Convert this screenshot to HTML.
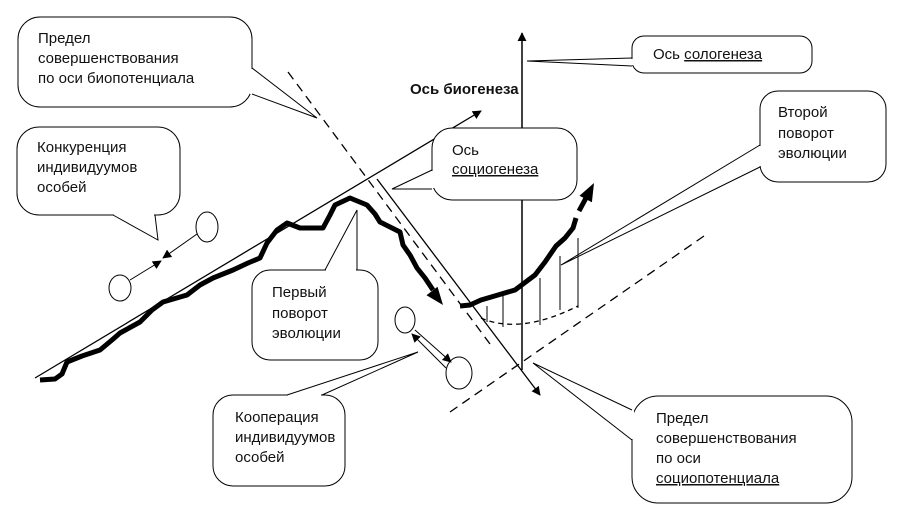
<!DOCTYPE html>
<html><head><meta charset="utf-8"><style>
html,body{margin:0;padding:0;background:#fff;width:904px;height:525px;overflow:hidden}
svg{display:block}
text{font-family:"Liberation Sans","DejaVu Sans",sans-serif;font-size:15px;fill:#111}
.u{text-decoration:underline wavy #c00}
</style></head><body>
<svg width="904" height="525" viewBox="0 0 904 525" xmlns="http://www.w3.org/2000/svg">
<defs>
<marker id="ah" viewBox="0 0 10 10" refX="9" refY="5" markerWidth="9" markerHeight="9" orient="auto" markerUnits="userSpaceOnUse"><path d="M0,0 L10,5 L0,10 z" fill="#000"/></marker>
</defs>
<g stroke="#000" fill="none">
<line x1="35" y1="378" x2="481" y2="111" stroke-width="1.3" marker-end="url(#ah)"/>
<line x1="522" y1="370" x2="522" y2="33" stroke-width="1.5" marker-end="url(#ah)"/>
<line x1="377" y1="179" x2="540" y2="395" stroke-width="1.3" marker-end="url(#ah)"/>
<line x1="288" y1="72" x2="490" y2="344" stroke-width="1.3" stroke-dasharray="9,6"/>
<line x1="450" y1="412" x2="704" y2="236" stroke-width="1.3" stroke-dasharray="9,6"/>
<path d="M481,318 Q520,335 578,306" stroke-width="1.3" stroke-dasharray="5,4"/>
<line x1="487" y1="306" x2="487" y2="322"/>
<line x1="503" y1="293" x2="503" y2="327"/>
<line x1="540" y1="278" x2="540" y2="325"/>
<line x1="560" y1="256" x2="560" y2="310"/>
<line x1="578" y1="238" x2="578" y2="308"/>
<path d="M40,380 L55,379 L62,374 L67,362 L82,356 L100,350 L112,340 L120,333 L140,322 L152,310 L163,302 L187,295 L200,285 L213,278 L233,270 L248,263 L260,258 L267,243 L277,230 L287,223 L300,228 L323,228 L330,215 L335,205 L350,198 L367,205 L375,214 L380,222 L400,232 L403,245 L410,255 L417,268 L425,278 L433,290" stroke-width="5" stroke-linejoin="round"/>
<path d="M460,306 L470,305 L481,300 L498,295 L515,290 L535,275 L545,262 L556,246 L565,238 L573,228 L576,218" stroke-width="5" stroke-linejoin="round"/>
<path d="M579,211 L586,198" stroke-width="5"/>
<ellipse cx="120" cy="288" rx="11" ry="13"/>
<ellipse cx="207" cy="227" rx="11" ry="15"/>
<line x1="130" y1="280" x2="161" y2="261" marker-end="url(#ah)"/>
<line x1="197" y1="234" x2="163" y2="258" marker-end="url(#ah)"/>
<ellipse cx="405" cy="320" rx="10" ry="13"/>
<ellipse cx="459" cy="373" rx="13" ry="16"/>
<line x1="415" y1="330" x2="451" y2="362" marker-end="url(#ah)"/>
<line x1="446" y1="368" x2="412" y2="334" marker-end="url(#ah)"/>
</g>
<polygon points="443,305 426.5,295.3 437.5,286.7" fill="#000"/>
<polygon points="594,183 591.9,202.2 579.5,195.8" fill="#000"/>

<g stroke="#000" stroke-width="1" fill="#fff">
<rect x="18" y="17" width="234" height="90" rx="22"/>
<rect x="17" y="127" width="163" height="88" rx="22"/>
<rect x="432" y="128" width="145" height="72" rx="20"/>
<rect x="632" y="36" width="180" height="37" rx="12"/>
<rect x="760" y="91" width="126" height="91" rx="18"/>
<rect x="252" y="270" width="126" height="90" rx="18"/>
<rect x="213" y="395" width="132" height="91" rx="20"/>
<rect x="632" y="396" width="220" height="107" rx="26"/>
</g>
<g fill="#fff" stroke="none">
<rect x="250" y="69" width="4" height="25"/>
<rect x="114" y="213" width="40" height="4"/>
<rect x="430" y="171" width="4" height="17"/>
<rect x="630" y="59" width="4" height="6"/>
<rect x="758" y="146" width="4" height="20"/>
<rect x="326" y="268" width="30" height="4"/>
<rect x="288" y="393" width="33" height="4"/>
<rect x="630" y="411" width="4" height="28"/>
</g>
<g stroke="#000" stroke-width="1" fill="none">
<polyline points="252,68 317,118 252,94"/>
<polyline points="113,215 158,240 155,215"/>
<polyline points="432,170 392,189 432,189"/>
<polyline points="632,58 527,61 632,66"/>
<polyline points="760,145 561,265 760,167"/>
<polyline points="325,270 357,210 357,270"/>
<polyline points="287,395 418,352 322,395"/>
<polyline points="632,410 533,363 632,440"/>
</g>

<text x="38" y="43">Предел</text>
<text x="38" y="63">совершенствования</text>
<text x="38" y="83">по оси биопотенциала</text>

<text x="37" y="152">Конкуренция</text>
<text x="37" y="172">индивидуумов</text>
<text x="37" y="192">особей</text>

<text x="452" y="155">Ось</text>
<text x="452" y="174" class="u">социогенеза</text>

<text x="653" y="59">Ось  <tspan class="u">сологенеза</tspan></text>

<text x="778" y="117">Второй</text>
<text x="778" y="138">поворот</text>
<text x="778" y="158">эволюции</text>

<text x="272" y="297">Первый</text>
<text x="272" y="318">поворот</text>
<text x="272" y="338">эволюции</text>

<text x="235" y="422">Кооперация</text>
<text x="235" y="442">индивидуумов</text>
<text x="235" y="462">особей</text>

<text x="656" y="423">Предел</text>
<text x="656" y="443">совершенствования</text>
<text x="656" y="463">по оси</text>
<text x="656" y="483" class="u">социопотенциала</text>

<text x="410" y="94" style="font-weight:bold;font-size:15px">Ось биогенеза</text>
</svg>
</body></html>
